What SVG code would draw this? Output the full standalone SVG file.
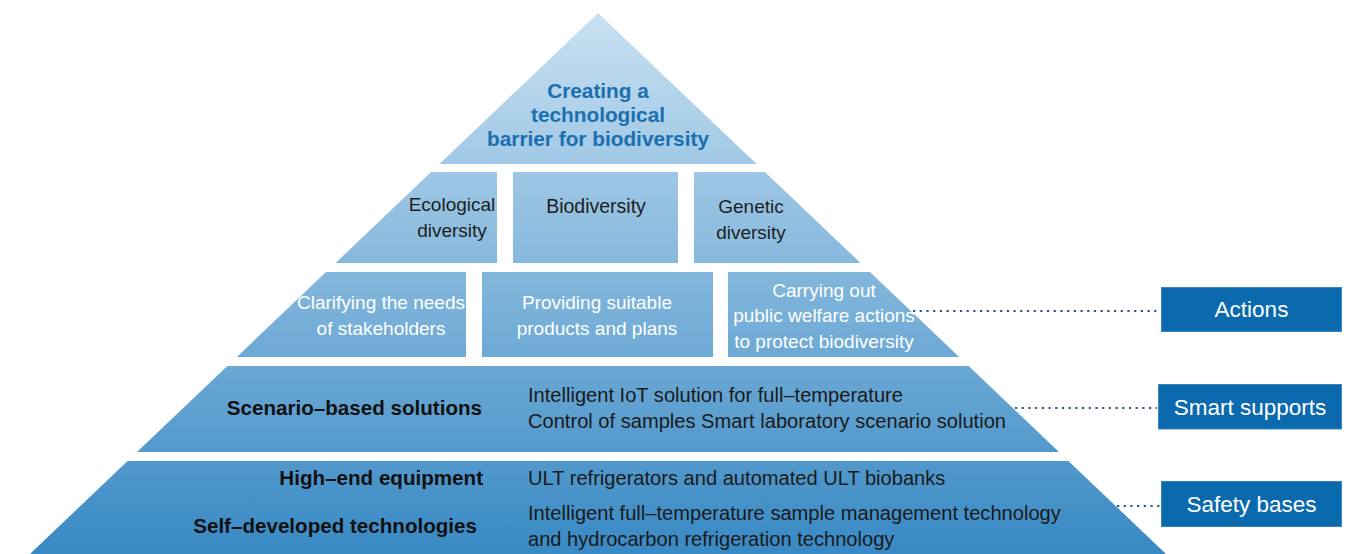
<svg xmlns="http://www.w3.org/2000/svg" width="1350" height="554" viewBox="0 0 1350 554">
  <defs>
    <linearGradient id="pyr" gradientUnits="userSpaceOnUse" x1="0" y1="13" x2="0" y2="554">
      <stop offset="0" stop-color="#c9e1f2"/>
      <stop offset="1" stop-color="#3889c4"/>
    </linearGradient>
    <style>
      .tier { fill: url(#pyr); }
      .t { font-family: "Liberation Sans", Arial, sans-serif; font-size: 19px; }
      .dark { fill: #1e1e1e; }
      .white { fill: #ffffff; }
      .title { font-family: "Liberation Sans", Arial, sans-serif; font-size: 20.8px; font-weight: bold; fill: #1a6fb0; }
      .bold { font-family: "Liberation Sans", Arial, sans-serif; font-size: 20.6px; font-weight: bold; fill: #111111; }
      .body { font-family: "Liberation Sans", Arial, sans-serif; font-size: 20.1px; fill: #1a1a1a; }
      .mid { text-anchor: middle; }
      .end { text-anchor: end; }
      .tag rect { fill: #0b6aad; stroke: #3a86c0; stroke-width: 1; }
      .tag text { font-family: "Liberation Sans", Arial, sans-serif; font-size: 22.5px; fill: #ffffff; text-anchor: middle; }
      .dots { stroke: #1d5a96; stroke-width: 2.2; stroke-dasharray: 2.2 4.5; fill: none; }
    </style>
  </defs>
  <rect width="1350" height="554" fill="#ffffff"/>

  <g id="top">
    <polygon class="tier" points="598,13 756.55,164 439.45,164"/>
    <text class="title mid" x="598" y="98">Creating a</text>
    <text class="title mid" x="598" y="122">technological</text>
    <text class="title mid" x="598" y="146">barrier for biodiversity</text>
  </g>

  <g id="ecological">
    <polygon class="tier" points="431.05,172 497,172 497,263 335.5,263"/>
    <text class="t dark mid" x="452" y="211">Ecological</text>
    <text class="t dark mid" x="452" y="237">diversity</text>
  </g>
  <g id="biodiversity">
    <rect class="tier" x="513" y="172" width="165" height="91"/>
    <text class="t dark mid" x="596" y="213" style="font-size:19.5px">Biodiversity</text>
  </g>
  <g id="genetic">
    <polygon class="tier" points="694,172 764.95,172 860.5,263 694,263"/>
    <text class="t dark mid" x="751" y="213">Genetic</text>
    <text class="t dark mid" x="751" y="239">diversity</text>
  </g>

  <g id="clarifying">
    <polygon class="tier" points="326.05,272 466,272 466,357 236.8,357"/>
    <text class="t white mid" x="381" y="309">Clarifying the needs</text>
    <text class="t white mid" x="381" y="335">of stakeholders</text>
  </g>
  <g id="providing">
    <rect class="tier" x="482" y="272" width="231" height="85"/>
    <text class="t white mid" x="597" y="309">Providing suitable</text>
    <text class="t white mid" x="597" y="335">products and plans</text>
  </g>
  <g id="carrying">
    <polygon class="tier" points="728,272 869.95,272 959.2,357 728,357"/>
    <text class="t white mid" x="824" y="297">Carrying out</text>
    <text class="t white mid" x="824" y="322">public welfare actions</text>
    <text class="t white mid" x="824" y="348">to protect biodiversity</text>
  </g>

  <g id="scenario">
    <polygon class="tier" points="227.35,366 968.65,366 1058.95,452 137.05,452"/>
    <text class="bold end" x="482" y="415">Scenario–based solutions</text>
    <text class="body" x="528" y="402">Intelligent IoT solution for full–temperature</text>
    <text class="body" x="528" y="428">Control of samples Smart laboratory scenario solution</text>
  </g>

  <g id="base">
    <polygon class="tier" points="127.6,461 1068.4,461 1172.35,560 23.65,560"/>
    <text class="bold end" x="483" y="485">High–end equipment</text>
    <text class="bold end" x="477" y="533">Self–developed technologies</text>
    <text class="body" x="528" y="485">ULT refrigerators and automated ULT biobanks</text>
    <text class="body" x="528" y="520">Intelligent full–temperature sample management technology</text>
    <text class="body" x="528" y="546">and hydrocarbon refrigeration technology</text>
  </g>

  <g id="connectors">
    <line class="dots" x1="913" y1="311" x2="1159" y2="311"/>
    <line class="dots" x1="1015" y1="408" x2="1157" y2="408"/>
    <line class="dots" x1="1117" y1="506" x2="1160" y2="506"/>
  </g>

  <g id="actions" class="tag">
    <rect x="1161.5" y="287.5" width="180" height="44"/>
    <text x="1251.5" y="317">Actions</text>
  </g>
  <g id="smart-supports" class="tag">
    <rect x="1158.5" y="384.5" width="183" height="44.5"/>
    <text x="1250" y="414.5">Smart supports</text>
  </g>
  <g id="safety-bases" class="tag">
    <rect x="1161.5" y="481.5" width="180" height="45"/>
    <text x="1251.5" y="511.5">Safety bases</text>
  </g>
</svg>
